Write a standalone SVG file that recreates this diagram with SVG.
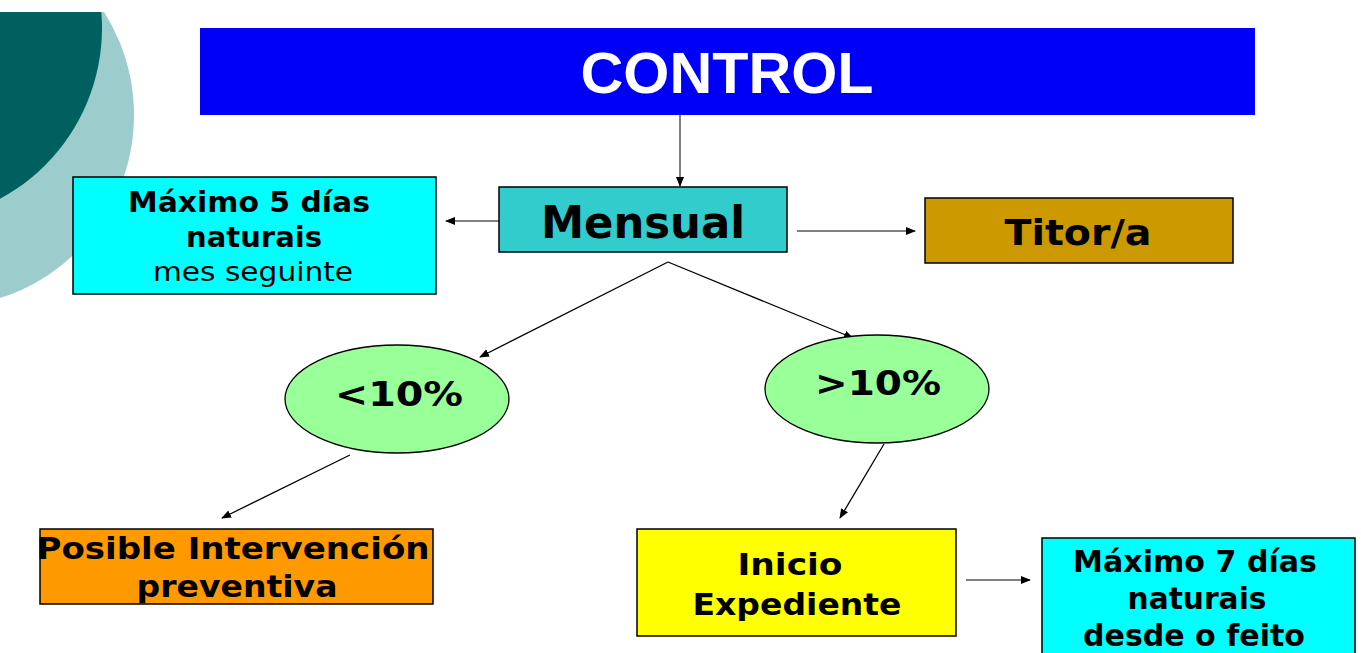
<svg xmlns="http://www.w3.org/2000/svg" width="1361" height="653" viewBox="0 0 1361 653">
<style>
.box{stroke:#000;stroke-width:1.5}
.t{font-family:"DejaVu Sans",Verdana,sans-serif;font-weight:bold;fill:#000;text-anchor:middle}
.n{font-weight:normal}
.c{stroke:#808080;stroke-width:2;fill:none;marker-end:url(#ah)}
.d{stroke:#000;stroke-width:1.3;fill:none;marker-end:url(#ah)}
</style>
<defs>
<marker id="ah" viewBox="0 0 10 10" refX="9" refY="5" markerWidth="10" markerHeight="10" markerUnits="userSpaceOnUse" orient="auto">
<path d="M0,1 L10,5 L0,9 z" fill="#000"/>
</marker>
<clipPath id="cp"><rect x="0" y="12" width="400" height="400"/></clipPath>
</defs>
<rect width="1361" height="653" fill="#fff"/>
<g id="decor" clip-path="url(#cp)">
<circle cx="-58" cy="115" r="192" fill="#9ccccc"/>
<circle cx="-92" cy="28" r="194" fill="#006060"/>
</g>
<g id="connectors">
<line class="c" x1="680" y1="115" x2="680" y2="186"/>
<line class="c" x1="499" y1="221" x2="446" y2="221"/>
<line class="c" x1="797" y1="231" x2="915" y2="231"/>
<line class="d" x1="668" y1="262" x2="480" y2="357"/>
<line class="d" x1="668" y1="262" x2="853" y2="338"/>
<line class="d" x1="350" y1="455" x2="222" y2="518"/>
<line class="d" x1="884" y1="444" x2="840" y2="518"/>
<line class="c" x1="966" y1="580" x2="1030" y2="580"/>
</g>
<g id="control">
<rect x="200" y="28" width="1055" height="87" fill="#0000f8"/>
<text x="727" y="93" font-family="Liberation Sans,Arial,sans-serif" font-weight="bold" font-size="57" fill="#fff" text-anchor="middle" textLength="293" lengthAdjust="spacingAndGlyphs">CONTROL</text>
</g>
<g id="maximo5">
<rect class="box" x="73" y="177" width="363" height="117" fill="#00ffff"/>
<text class="t" x="249" y="212" font-size="28" textLength="242" lengthAdjust="spacingAndGlyphs">Máximo 5 días</text>
<text class="t" x="254" y="247" font-size="28" textLength="136" lengthAdjust="spacingAndGlyphs">naturais</text>
<text class="t n" x="253" y="281" font-size="26" textLength="200" lengthAdjust="spacingAndGlyphs">mes seguinte</text>
</g>
<g id="mensual">
<rect class="box" x="499" y="187" width="288" height="65" fill="#33cccc"/>
<text class="t" x="643" y="238" font-size="44" textLength="204" lengthAdjust="spacingAndGlyphs">Mensual</text>
</g>
<g id="titor">
<rect class="box" x="925" y="198" width="308" height="65" fill="#cc9900"/>
<text class="t" x="1078" y="245" font-size="36" textLength="147" lengthAdjust="spacingAndGlyphs">Titor/a</text>
</g>
<g id="menos10">
<ellipse cx="397" cy="399" rx="112" ry="54" fill="#99ff99" stroke="#000" stroke-width="1.3"/>
<text class="t" x="399" y="406" font-size="34" textLength="128" lengthAdjust="spacingAndGlyphs">&lt;10%</text>
</g>
<g id="mais10">
<ellipse cx="877" cy="389" rx="112" ry="54" fill="#99ff99" stroke="#000" stroke-width="1.3"/>
<text class="t" x="878" y="395" font-size="34" textLength="126" lengthAdjust="spacingAndGlyphs">&gt;10%</text>
</g>
<g id="posible">
<rect class="box" x="40" y="529" width="393" height="75" fill="#ff9900"/>
<text class="t" x="233" y="559" font-size="30" textLength="393" lengthAdjust="spacingAndGlyphs">Posible Intervención</text>
<text class="t" x="237" y="597" font-size="30" textLength="201" lengthAdjust="spacingAndGlyphs">preventiva</text>
</g>
<g id="inicio">
<rect class="box" x="637" y="529" width="319" height="107" fill="#ffff00"/>
<text class="t" x="790" y="575" font-size="31" textLength="105" lengthAdjust="spacingAndGlyphs">Inicio</text>
<text class="t" x="797" y="615" font-size="31" textLength="209" lengthAdjust="spacingAndGlyphs">Expediente</text>
</g>
<g id="maximo7">
<rect class="box" x="1042" y="538" width="313" height="122" fill="#00ffff"/>
<text class="t" x="1195" y="572" font-size="30" textLength="244" lengthAdjust="spacingAndGlyphs">Máximo 7 días</text>
<text class="t" x="1197" y="609" font-size="30" textLength="139" lengthAdjust="spacingAndGlyphs">naturais</text>
<text class="t" x="1194" y="646" font-size="30" textLength="222" lengthAdjust="spacingAndGlyphs">desde o feito</text>
</g>
</svg>
